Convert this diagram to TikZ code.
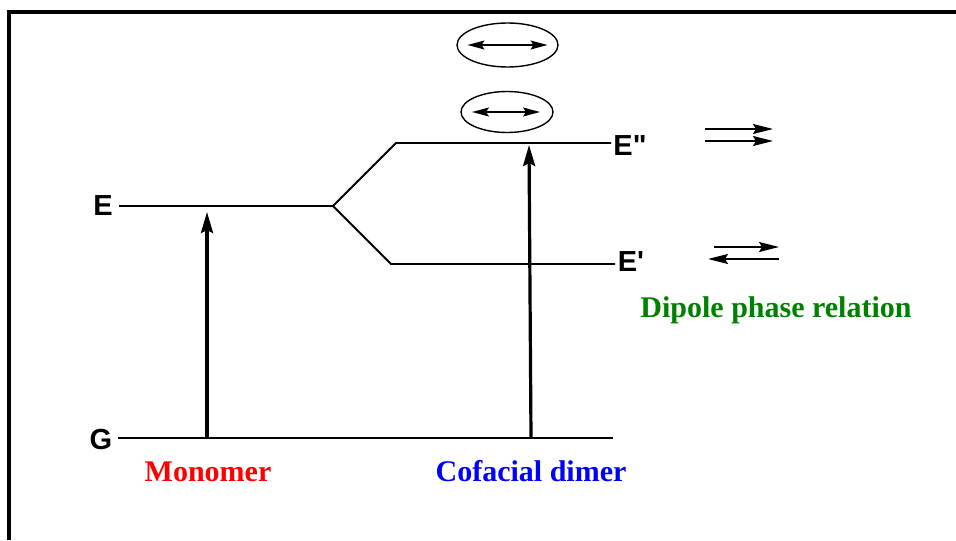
\documentclass[tikz,border=0pt]{standalone}
\usepackage{fontspec}
\setmainfont{Liberation Serif}
\newfontfamily\levelfont{Liberation Sans}
\usetikzlibrary{arrows.meta,shapes.geometric}

\definecolor{phasegreen}{RGB}{0,128,0}

\tikzset{
  level/.style={line width=0.9pt},
  levellabel/.style={font=\levelfont\bfseries\fontsize{14.5}{17}\selectfont, inner sep=0pt},
  caption/.style={font=\bfseries\fontsize{15}{18}\selectfont, inner sep=0pt, anchor=base},
  transition/.style={line width=1.6pt, -{Stealth[length=10.5pt,width=6pt,inset=1.5pt]}},
  dipole/.style={line width=0.8pt, -{Stealth[length=10pt,width=5pt,inset=1.5pt]}},
  pairtip/.style={line width=0.8pt,
    {Stealth[length=8.5pt,width=4.5pt,inset=1.5pt]}-{Stealth[length=8.5pt,width=4.5pt,inset=1.5pt]}},
  pair/.style={draw, ellipse, line width=0.7pt, inner sep=0pt},
}

\begin{document}
\begin{tikzpicture}[x=0.5pt,y=-0.5pt]
  \useasboundingbox (0,0) rectangle (956,540);

  % Frame (cut off at right and bottom)
  \draw[line width=1.6pt] (9,540) -- (9,12) -- (956,12);

  % Level labels
  \node[levellabel] (E)  at (103,206) {E};
  \node[levellabel] (G)  at (101,440) {G};
  \node[levellabel] (Eup) at (630,146) {E\char"22};
  \node[levellabel] (Elo) at (631,262) {E\char"27};

  % Energy levels
  \coordinate (Estart) at (119,206);
  \coordinate (split)  at (333,206);
  \coordinate (upstart) at (396,143);
  \coordinate (upend)   at (611,143);
  \coordinate (lostart) at (391,264);
  \coordinate (loend)   at (615,264);
  \coordinate (Gstart) at (118,438);
  \coordinate (Gend)   at (613,438);

  \draw[level] (Estart) -- (split);
  \draw[level] (split) -- (upstart) -- (upend);
  \draw[level] (split) -- (lostart) -- (loend);
  \draw[level] (Gstart) -- (Gend);

  % Transitions
  \coordinate (monofoot) at (207,438);
  \coordinate (monotip)  at (207,212);
  \coordinate (dimfoot)  at (531,438);
  \coordinate (dimtip)   at (529,145);
  \draw[transition] (monofoot) -- (monotip);
  \draw[transition] (dimfoot) -- (dimtip);

  % Dipole pairs above E''
  \node[pair, minimum width=50.5pt, minimum height=22pt] (toppair) at (507.5,45) {};
  \node[pair, minimum width=46pt, minimum height=20.5pt] (lowpair) at (507,112) {};
  \draw[pairtip] ([xshift=-20pt]toppair.center) -- ([xshift=20pt]toppair.center);
  \draw[pairtip] ([xshift=-17.5pt]lowpair.center) -- ([xshift=16.5pt]lowpair.center);

  % Phase relations
  \coordinate (inA) at (705,129);  \coordinate (inAtip) at (773,129);
  \coordinate (inB) at (705,141);  \coordinate (inBtip) at (773,141);
  \draw[dipole] (inA) -- (inAtip);
  \draw[dipole] (inB) -- (inBtip);
  \coordinate (outA) at (714,247); \coordinate (outAtip) at (779,247);
  \coordinate (outB) at (779,259); \coordinate (outBtip) at (708,259);
  \draw[dipole] (outA) -- (outAtip);
  \draw[dipole] (outB) -- (outBtip);

  % Captions
  \node[caption, red] (mono) at (208,481) {Monomer};
  \node[caption, blue] (dimer) at (531,481) {Cofacial dimer};
  \node[caption, phasegreen] (phase) at (776,317) {Dipole phase relation};
\end{tikzpicture}
\end{document}
